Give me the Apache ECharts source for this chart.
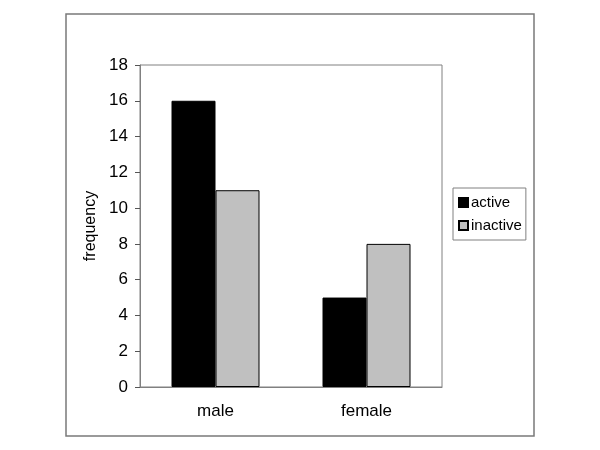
<!DOCTYPE html>
<html>
<head>
<meta charset="utf-8">
<script src="https://cdn.jsdelivr.net/npm/echarts@6/dist/echarts.min.js"></script>
<style>
  html, body { margin: 0; padding: 0; background: #fff; }
  #chart { width: 600px; height: 450px; }
</style>
</head>
<body>
<div id="chart"></div>
<script>
// categories and series
var categories = ["male", "female"];
var activeValues = [16, 5];
var inactiveValues = [11, 8];

var chart = echarts.init(document.getElementById("chart"));

chart.setOption({
  animation: false,
  textStyle: { fontFamily: "Liberation Sans, Arial, sans-serif" },
  // outer frame of the chart area
  graphic: [{
    type: "rect",
    shape: { x: 66, y: 14, width: 468, height: 422 },
    style: { fill: "none", stroke: "#7a7a7a", lineWidth: 1.5 },
    silent: true
  }],
  grid: {
    left: 140, top: 65, right: 158, bottom: 63,
    show: true, borderColor: "#808080", borderWidth: 1,
    backgroundColor: "#fff"
  },
  legend: {
    orient: "vertical",
    left: 453, top: 188,
    borderColor: "#808080", borderWidth: 1,
    padding: [7, 4, 7, 5],
    itemWidth: 9, itemHeight: 9, itemGap: 8,
    icon: "rect",
    textStyle: { fontSize: 15, color: "#000", padding: [0, 0, 0, -2] },
    data: ["active", "inactive"]
  },
  xAxis: {
    type: "category",
    data: categories,
    axisLine: { lineStyle: { color: "#808080", width: 1 } },
    axisTick: { length: 5, lineStyle: { color: "#555" } },
    axisLabel: { fontSize: 17, color: "#000", margin: 16 }
  },
  yAxis: {
    type: "value",
    min: 0, max: 18, interval: 2,
    name: "frequency",
    nameLocation: "middle",
    nameGap: 39,
    nameRotate: 90,
    nameTextStyle: { fontSize: 16, color: "#000" },
    axisLine: { show: true, lineStyle: { color: "#808080", width: 1 } },
    axisTick: { show: true, length: 5, lineStyle: { color: "#555" } },
    axisLabel: { fontSize: 17, color: "#000", margin: 12 },
    splitLine: { show: false }
  },
  series: [
    {
      name: "active",
      type: "bar",
      data: activeValues,
      barWidth: 44,
      barGap: "0%",
      itemStyle: { color: "#000", borderColor: "#000", borderWidth: 1 }
    },
    {
      name: "inactive",
      type: "bar",
      data: inactiveValues,
      barWidth: 44,
      itemStyle: { color: "#c0c0c0", borderColor: "#000", borderWidth: 1 }
    }
  ]
});
</script>
</body>
</html>
